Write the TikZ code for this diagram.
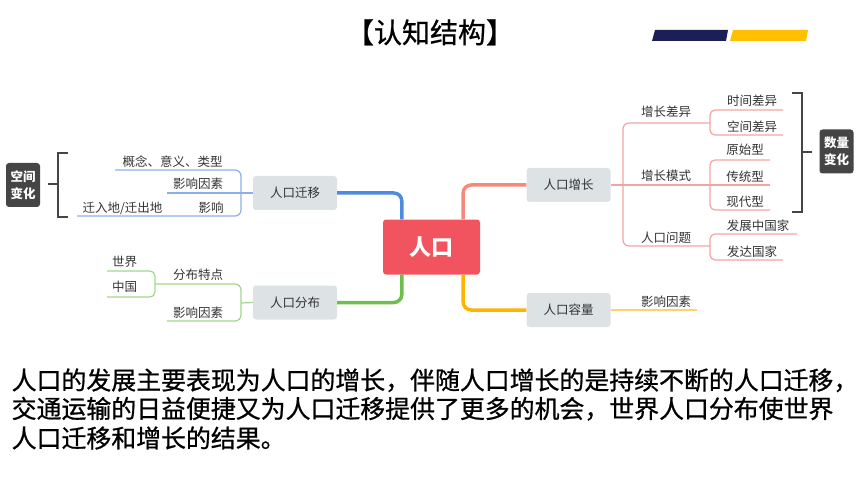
\documentclass[tikz,border=0pt]{standalone}
\usepackage{fontspec}
\setmainfont{Noto Sans CJK SC}
\newfontfamily\heiti[FakeBold=0.8]{Noto Sans CJK SC}
\usepackage{tikz}
\usetikzlibrary{arrows}

\definecolor{rootred}{HTML}{F2545F}
\definecolor{topicgray}{HTML}{DDE2E5}
\definecolor{textgray}{HTML}{333333}
\definecolor{boxgray}{HTML}{454545}
\definecolor{bluemain}{HTML}{4C8BE0}
\definecolor{bluelight}{HTML}{8AB0EA}
\definecolor{greenmain}{HTML}{6DBE4B}
\definecolor{greenlight}{HTML}{A3D58E}
\definecolor{redmain}{HTML}{F58A7A}
\definecolor{redlight}{HTML}{F4A3A3}
\definecolor{yellowmain}{HTML}{FFB400}
\definecolor{yellowlight}{HTML}{FFD36B}
\definecolor{barnavy}{HTML}{1C1F55}
\definecolor{baryellow}{HTML}{FFC000}

\begin{document}
\begin{tikzpicture}
[x=1pt,y=-1pt,
  root node/.style={rounded corners=3pt,fill=rootred,text=white,minimum width=97pt,minimum height=55pt,font=\fontsize{22}{24}\selectfont\bfseries},
  main node/.style={rounded corners=3pt,fill=topicgray,text=textgray,minimum width=84pt,minimum height=34pt,font=\fontsize{12.5}{14}\selectfont},
  leaf/.style={inner sep=0pt,text=textgray,font=\fontsize{12.5}{14}\selectfont},
  tag/.style={rounded corners=3pt,fill=boxgray,text=white,align=center,minimum width=34pt,minimum height=44pt,inner sep=0pt,font=\fontsize{12.5}{17}\selectfont\bfseries},
  line text/.style={anchor=base west,inner sep=0pt,font=\heiti\fontsize{24.9}{28}\selectfont},
  branch/.style={line width=3.5pt,rounded corners=8pt},
  twig/.style={line width=1.2pt,rounded corners=6pt},
  brace/.style={line width=2pt,boxgray}]
  \useasboundingbox (0,0) rectangle (860,484);
  % title
  \node[anchor=base,font=\heiti\fontsize{28}{30}\selectfont] (title) at (430,43) {【认知结构】};
  \fill[barnavy] (652,41) -- (655,30) -- (728,30) -- (726,41) -- cycle;
  \fill[baryellow] (730,41) -- (733,30) -- (808,30) -- (806,41) -- cycle;
  % mind map
  \node[root node] (0) at (431.5,247) {人口};
  \node[main node] (1) at (568.5,185) {人口增长};
  \node[main node] (2) at (568.5,310) {人口容量};
  \node[main node] (3) at (295,193) {人口迁移};
  \node[main node] (4) at (295,302.5) {人口分布};
  \draw[branch,redmain] ([xshift=-17pt]0.north east) |- (1.west);
  \draw[branch,yellowmain] ([xshift=-17pt]0.south east) |- (2.west);
  \draw[branch,bluemain] ([xshift=19pt]0.north west) |- (3.east);
  \draw[branch,greenmain] ([xshift=19pt]0.south west) |- (4.east);
  % growth
  \node[leaf] (diff) at (666,112) {增长差异};
  \node[leaf] (mode) at (666,176) {增长模式};
  \node[leaf] (prob) at (666,238) {人口问题};
  \node[leaf] (time) at (752,101) {时间差异};
  \node[leaf] (space) at (752,127) {空间差异};
  \node[leaf] (prim) at (745,150) {原始型};
  \node[leaf] (trad) at (745,177) {传统型};
  \node[leaf] (mod) at (745,202) {现代型};
  \node[leaf] (devg) at (758,226) {发展中国家};
  \node[leaf] (devd) at (752,252) {发达国家};
  \coordinate (t1) at (623,185);
  \coordinate (s1) at (710,123);
  \coordinate (s2) at (710,185);
  \coordinate (s3) at (710,246);
  \draw[twig,redlight] (1.east) -- (770,185);
  \draw[twig,redlight] (s1) -| (t1) |- (s3);
  \draw[twig,redlight,rounded corners=5pt] (783,110) -| (s1) |- (783,135);
  \draw[twig,redlight,rounded corners=5pt] (770,160) -| (s2) |- (770,210);
  \draw[twig,redlight,rounded corners=5pt] (797,234) -| (s3) |- (783,260);
  \draw[brace] (792,93) -| (802,212) -- (792,212);
  \draw[brace] (802,152) -- (812,152);
  \node[tag] (qty) at (836.5,151.5) {数量\\变化};
  % capacity
  \node[leaf] (fac1) at (666,302) {影响因素};
  \draw[twig,yellowlight] (2.east) -- (697,310);
  % migration
  \node[leaf] (idea) at (172.5,162) {概念、意义、类型};
  \node[leaf] (fac2) at (198,184) {影响因素};
  \node[leaf] (eff) at (211,208) {影响};
  \node[leaf] (place) at (122.5,208) {迁入地/迁出地};
  \coordinate (m1) at (241,193);
  \draw[twig,bluelight] (3.west) -- (167,193);
  \draw[twig,bluelight] (115,170) -| (m1) |- (77,216);
  \draw[brace] (68,153) -| (58,217) -- (68,217);
  \draw[brace] (48,184) -- (58,184);
  \node[tag] (room) at (23,185) {空间\\变化};
  % distribution
  \node[leaf] (feat) at (198,275) {分布特点};
  \node[leaf] (fac3) at (198,313) {影响因素};
  \node[leaf] (world) at (124.5,262) {世界};
  \node[leaf] (china) at (124.5,287) {中国};
  \coordinate (d1) at (241,303);
  \coordinate (d2) at (155,284);
  \draw[twig,greenlight] (4.west) -- (d1);
  \draw[twig,greenlight] (d2) -| (d1) |- (167,321);
  \draw[twig,greenlight,rounded corners=5pt] (107,271) -| (d2) |- (107,297);
  % text below
  \node[line text] (l1) at (11.5,389.5) {人口的发展主要表现为人口的增长，伴随人口增长的是持续不断的人口迁移，};
  \node[line text] (l2) at (11.5,418) {交通运输的日益便捷又为人口迁移提供了更多的机会，世界人口分布使世界};
  \node[line text] (l3) at (11.5,447.5) {人口迁移和增长的结果。};
\end{tikzpicture}
\end{document}
